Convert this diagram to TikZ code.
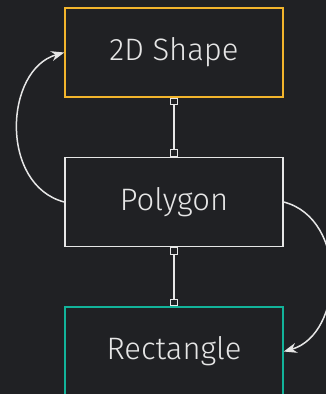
\documentclass[tikz,border=0pt]{standalone}
\usepackage{fontspec}
\setmainfont{Fira Sans Light}
\usetikzlibrary{arrows.meta}
\definecolor{bg}{HTML}{202124}
\definecolor{fg}{HTML}{E6E6E6}
\definecolor{orangeb}{HTML}{F2B52C}
\definecolor{tealb}{HTML}{12B39A}
\tikzset{
  box/.style={draw=fg, line width=1.5pt, fill=bg, minimum width=218pt, minimum height=89pt, inner sep=0pt, text=fg, font=\fontsize{31}{36}\selectfont},
  conn/.style={draw=fg, line width=1.5pt},
  sq/.style={draw=fg, fill=bg, line width=1.2pt, minimum size=6.5pt, inner sep=0pt},
  curv/.style={draw=fg, line width=1.5pt, -{Stealth[length=13pt,width=10pt]}}
}
\begin{document}
\begin{tikzpicture}[x=1pt,y=1pt]
\fill[bg] (0,0) rectangle (326,-394);
\useasboundingbox (0,0) rectangle (326,-394);
\begin{scope}
\clip (0,0) rectangle (326,-394);
\node[box, draw=orangeb] (shape) at (174,-52.5) {2D Shape};
\node[box] (poly) at (174,-202) {Polygon};
\node[box, draw=tealb] (rect) at (174,-351.5) {Rectangle};
\draw[conn] (shape.south) -- (poly.north)
  node[sq, pos=0, anchor=north] {} node[sq, pos=1, anchor=south] {};
\draw[conn] (poly.south) -- (rect.north)
  node[sq, pos=0, anchor=north] {} node[sq, pos=1, anchor=south] {};
\draw[curv] (poly.west) .. controls ([xshift=-65pt,yshift=17pt]poly.west) and ([xshift=-60pt,yshift=-17pt]shape.west) .. (shape.west);
\draw[curv] (poly.east) .. controls ([xshift=65pt,yshift=-17pt]poly.east) and ([xshift=60pt,yshift=17pt]rect.east) .. (rect.east);
\end{scope}
\end{tikzpicture}
\end{document}
